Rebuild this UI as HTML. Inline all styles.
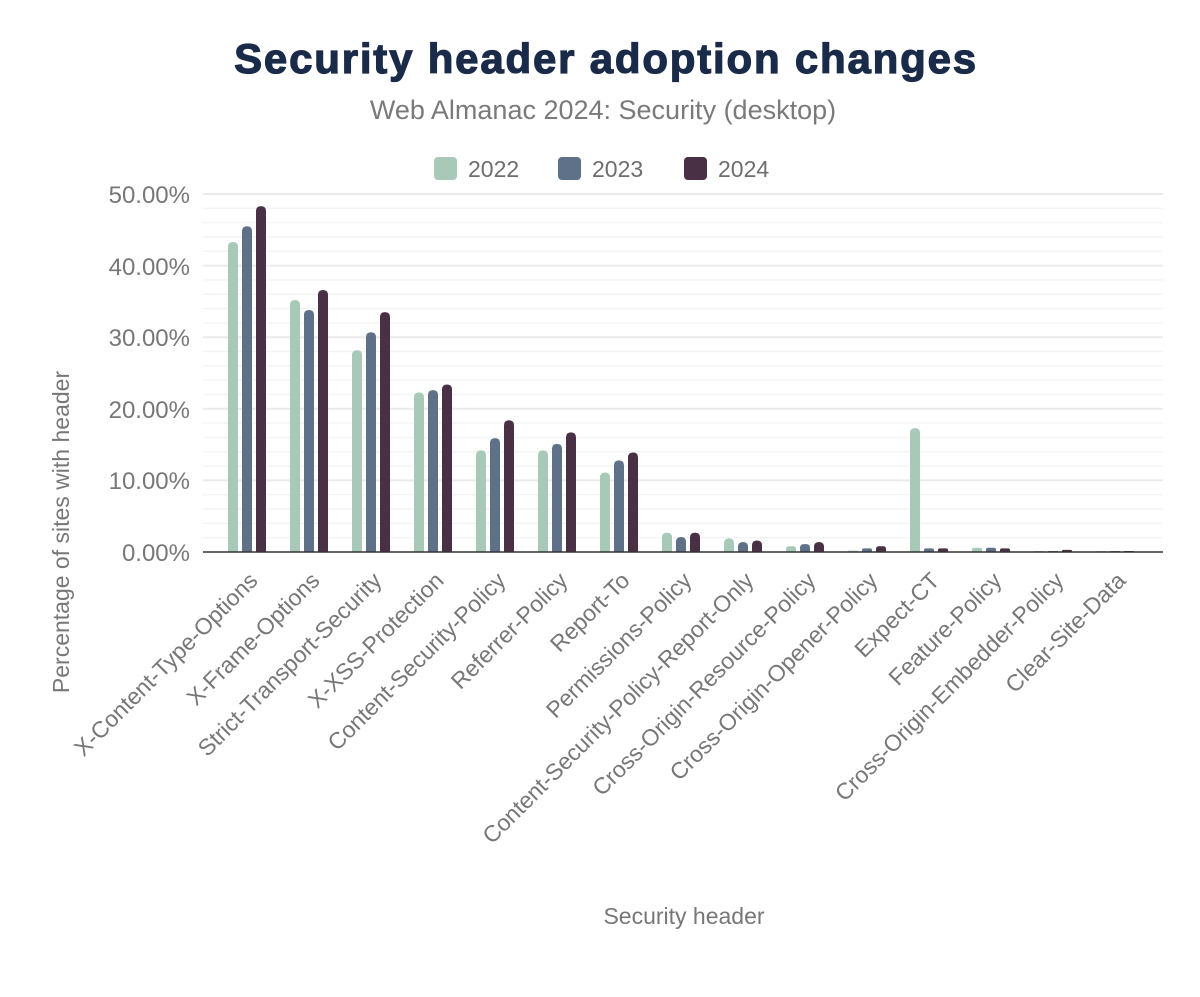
<!DOCTYPE html>
<html><head><meta charset="utf-8"><style>
body{margin:0;background:#fff;}
svg text{font-family:"Liberation Sans",Arial,sans-serif;}
</style></head><body>
<svg width="1200" height="992" viewBox="0 0 1200 992" xmlns="http://www.w3.org/2000/svg">
<rect width="1200" height="992" fill="#fff"/>
<text x="606" y="73" text-anchor="middle" font-size="42" font-weight="900" fill="#1a2b49" stroke="#1a2b49" stroke-width="1.2" style="letter-spacing:1.8px">Security header adoption changes</text>
<text x="603" y="119" text-anchor="middle" font-size="27" fill="#7a7a7a">Web Almanac 2024: Security (desktop)</text>
<g font-size="23" fill="#6e6e6e">
<rect x="434" y="157" width="23" height="23" rx="4" fill="#a8c9b8"/><text x="468" y="177">2022</text>
<rect x="558" y="157" width="23" height="23" rx="4" fill="#5f7089"/><text x="592" y="177">2023</text>
<rect x="684" y="157" width="23" height="23" rx="4" fill="#4a3045"/><text x="718" y="177">2024</text>
</g>
<g id="grid"></g>
<g id="bars"></g>
<line x1="203" y1="552" x2="1163" y2="552" stroke="#333" stroke-width="1.5"/>
<g font-size="24" fill="#777" text-anchor="end">
<text x="190" y="203">50.00%</text><text x="190" y="275">40.00%</text><text x="190" y="346">30.00%</text>
<text x="190" y="418">20.00%</text><text x="190" y="489">10.00%</text><text x="190" y="561">0.00%</text>
</g>
<text transform="translate(69,532) rotate(-90)" text-anchor="middle" font-size="23" fill="#777">Percentage of sites with header</text>
<text x="684" y="924" text-anchor="middle" font-size="23" fill="#777">Security header</text>
<g id="labels" font-size="23" fill="#777" text-anchor="end"></g>
</svg>
<script>
var ns="http://www.w3.org/2000/svg";
function el(t,a,p){var e=document.createElementNS(ns,t);for(var k in a)e.setAttribute(k,a[k]);p.appendChild(e);return e;}
var g=document.getElementById('grid');
for(var i=1;i<=25;i++){var y=552-i*2*7.16;el('line',{x1:203,x2:1163,y1:y,y2:y,stroke:i%5==0?'#ebebeb':'#f4f4f4','stroke-width':i%5==0?2:1.5},g);}
var d=[["X-Content-Type-Options",43.3,45.5,48.3],["X-Frame-Options",35.2,33.8,36.6],["Strict-Transport-Security",28.2,30.7,33.5],["X-XSS-Protection",22.3,22.6,23.4],["Content-Security-Policy",14.2,15.9,18.4],["Referrer-Policy",14.2,15.1,16.7],["Report-To",11.1,12.8,13.9],["Permissions-Policy",2.7,2.1,2.7],["Content-Security-Policy-Report-Only",1.9,1.4,1.6],["Cross-Origin-Resource-Policy",0.8,1.1,1.4],["Cross-Origin-Opener-Policy",0.2,0.5,0.8],["Expect-CT",17.3,0.5,0.5],["Feature-Policy",0.6,0.6,0.5],["Cross-Origin-Embedder-Policy",0.1,0.1,0.3],["Clear-Site-Data",0.05,0.05,0.05]];
var c=['#a8c9b8','#5f7089','#4a3045'];
var b=document.getElementById('bars'),L=document.getElementById('labels');
d.forEach(function(r,i){var cx=247+i*62;
for(var j=0;j<3;j++){var h=r[j+1]*7.16;var x=cx-19+j*14;
if(h<1)h=1;var rr=Math.min(5,h/2);
el('path',{d:'M'+x+' 552 V'+(552-h+rr)+' Q'+x+' '+(552-h)+' '+(x+rr)+' '+(552-h)+' H'+(x+10-rr)+' Q'+(x+10)+' '+(552-h)+' '+(x+10)+' '+(552-h+rr)+' V552 Z',fill:c[j]},b);}
var t=el('text',{transform:'translate('+(cx+12)+',582) rotate(-45)'},L);t.textContent=r[0];});
</script>
</body></html>
